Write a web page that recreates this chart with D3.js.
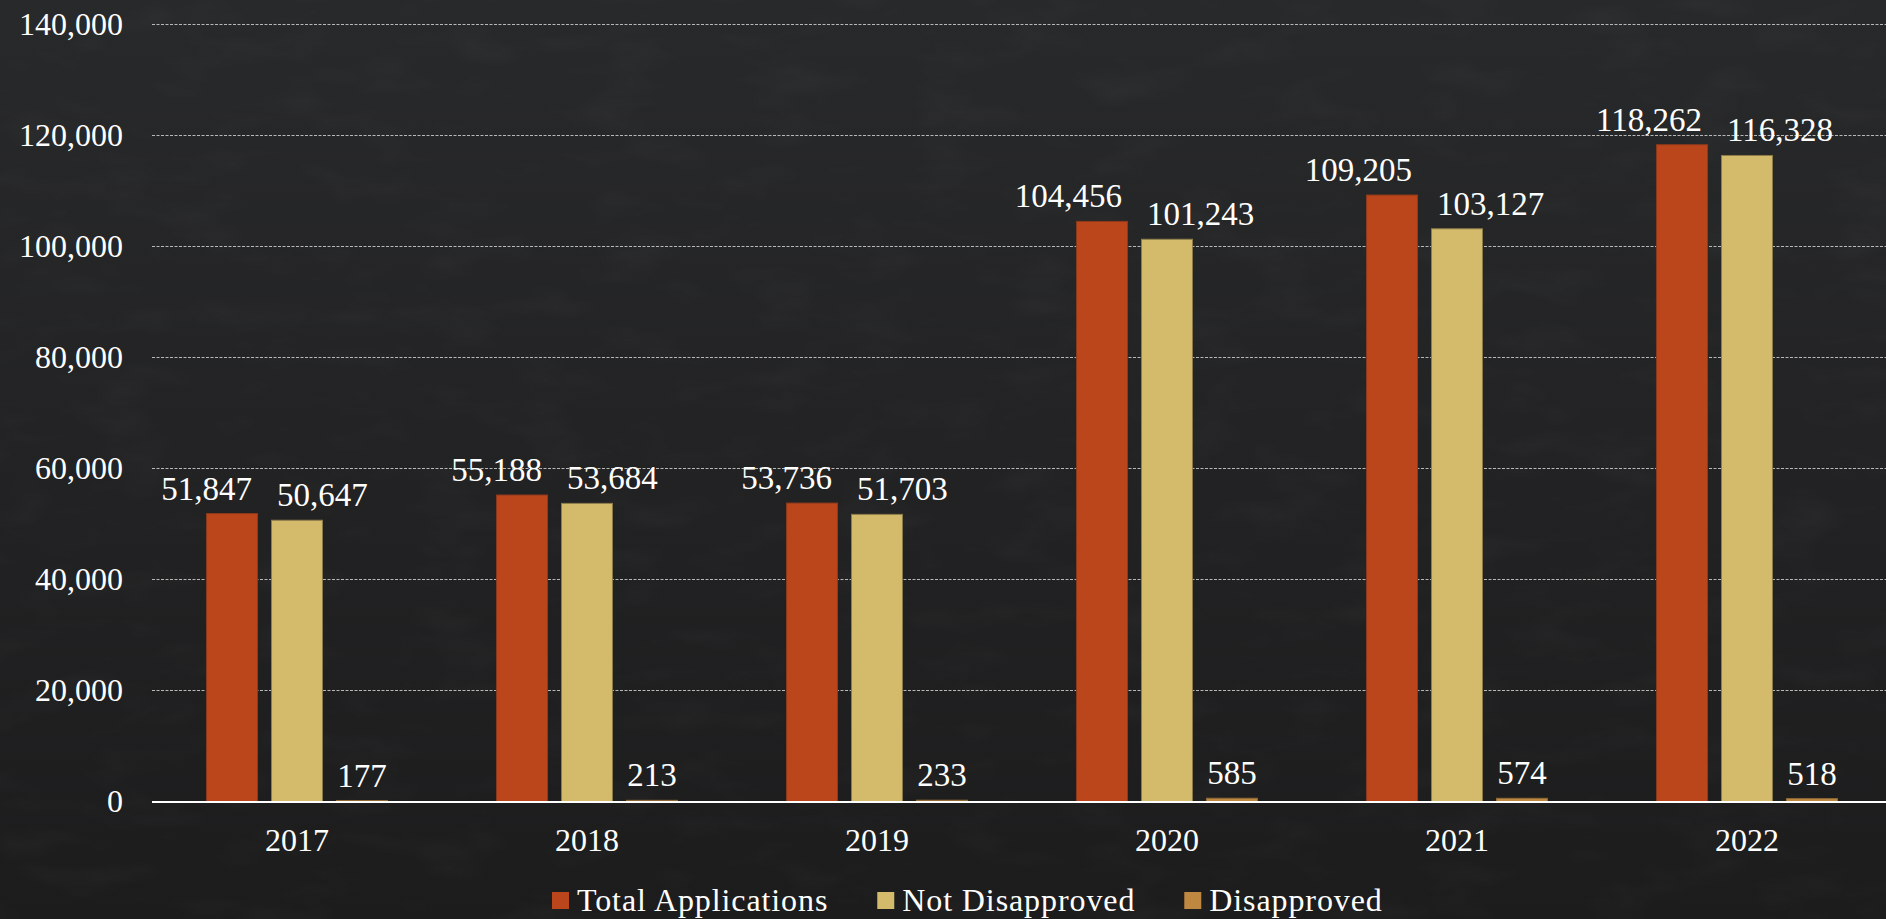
<!DOCTYPE html>
<html>
<head>
<meta charset="utf-8">
<script src="https://cdnjs.cloudflare.com/ajax/libs/d3/7.8.5/d3.min.js"></script>
<style>
  html, body { margin: 0; padding: 0; background: #202122; overflow: hidden; }
  svg { display: block; }
  text { font-family: "Liberation Serif", "DejaVu Serif", serif; fill: #ffffff; }
</style>
</head>
<body>
<svg id="myChart" width="1886" height="919"></svg>
<script>
// data
var years = ["2017", "2018", "2019", "2020", "2021", "2022"];
var seriesNames = ["Total Applications", "Not Disapproved", "Disapproved"];
var totalApplications = [51847, 55188, 53736, 104456, 109205, 118262];
var notDisapproved = [50647, 53684, 51703, 101243, 103127, 116328];
var disapproved = [177, 213, 233, 585, 574, 518];
var yTicks = [0, 20000, 40000, 60000, 80000, 100000, 120000, 140000];

var colors = ["#bb461c", "#d3bb6b", "#bf8840"];
var strokes = ["#8f3a1c", "#8c7c4a", "#8f6a35"];

drawChart();

function drawChart(){
  var svgWidth = 1886, svgHeight = 919;
  var svg = d3.select("#myChart");

  // background with a faint chalkboard texture
  var defs = svg.append("defs");
  var grad = defs.append("linearGradient")
    .attr("id", "bg").attr("x1", 0).attr("y1", 0).attr("x2", 0).attr("y2", 1);
  grad.append("stop").attr("offset", "0%").attr("stop-color", "#28292a");
  grad.append("stop").attr("offset", "100%").attr("stop-color", "#1c1c1d");
  var filt = defs.append("filter").attr("id", "grain")
    .attr("x", 0).attr("y", 0).attr("width", "100%").attr("height", "100%");
  filt.append("feTurbulence").attr("type", "fractalNoise")
    .attr("baseFrequency", "0.012 0.03").attr("numOctaves", 3).attr("seed", 4);
  filt.append("feColorMatrix").attr("type", "matrix")
    .attr("values", "0 0 0 0 1  0 0 0 0 1  0 0 0 0 1  0 0 0 0.9 -0.42");
  svg.append("rect").attr("width", svgWidth).attr("height", svgHeight).attr("fill", "url(#bg)");
  svg.append("rect").attr("width", svgWidth).attr("height", svgHeight)
    .attr("filter", "url(#grain)").attr("opacity", 0.06);

  // scales
  var x0 = d3.scaleBand().domain(years).range([152, 1892]);
  var x1 = d3.scaleBand().domain(seriesNames)
    .range([0, x0.bandwidth()]).paddingInner(0.215).paddingOuter(0.84);
  var y = d3.scaleLinear().domain([0, 140000]).range([801.5, 24]);

  // grid lines
  svg.append("g").selectAll("line")
    .data(yTicks.filter(function(d){ return d > 0; }))
    .enter().append("line")
    .attr("x1", 152).attr("x2", svgWidth)
    .attr("y1", function(d){ return Math.round(y(d)) + 0.5; })
    .attr("y2", function(d){ return Math.round(y(d)) + 0.5; })
    .attr("stroke", "#b8b8b8")
    .attr("stroke-width", 1)
    .attr("stroke-dasharray", "3,1.5");

  // y axis labels
  var yAxis = svg.append("g")
    .attr("transform", "translate(152,0)")
    .call(d3.axisLeft(y).tickValues(yTicks).tickSize(0).tickPadding(29)
      .tickFormat(d3.format(",")));
  yAxis.select(".domain").remove();
  yAxis.selectAll("text")
    .attr("fill", "#fff").attr("font-size", "32px")
    .attr("font-family", "Liberation Serif, DejaVu Serif, serif");

  // bars
  var rows = years.map(function(yr, i){
    return { year: yr, values: [totalApplications[i], notDisapproved[i], disapproved[i]] };
  });

  var groups = svg.append("g").selectAll("g")
    .data(rows).enter().append("g")
    .attr("transform", function(d){ return "translate(" + x0(d.year) + ",0)"; });

  groups.selectAll("rect")
    .data(function(d){ return d.values.map(function(v, k){ return { key: seriesNames[k], k: k, value: v }; }); })
    .enter().append("rect")
    .attr("x", function(d){ return x1(d.key); })
    .attr("y", function(d){ return y(d.value); })
    .attr("width", x1.bandwidth())
    .attr("height", function(d){ return y(0) - y(d.value); })
    .attr("fill", function(d){ return colors[d.k]; })
    .attr("stroke", function(d){ return strokes[d.k]; })
    .attr("stroke-width", 1);

  // zero line
  svg.append("line")
    .attr("x1", 152).attr("x2", svgWidth)
    .attr("y1", y(0) + 0.5).attr("y2", y(0) + 0.5)
    .attr("stroke", "#ffffff").attr("stroke-width", 2);

  // value labels
  groups.each(function(d){
    var g = d3.select(this);
    var labels = d.values.map(function(v, k){
      return g.append("text")
        .attr("x", x1(seriesNames[k]) + x1.bandwidth() / 2)
        .attr("y", y(v) - 14)
        .attr("text-anchor", "middle")
        .attr("font-size", "33px")
        .text(d3.format(",")(v));
    });
    // push the first two labels apart when they overlap
    var w0 = labels[0].node().getComputedTextLength();
    var w1 = labels[1].node().getComputedTextLength();
    var c0 = +labels[0].attr("x"), c1 = +labels[1].attr("x");
    var need = (w0 + w1) / 2 + 25;
    if (c1 - c0 < need) {
      var shift = (need - (c1 - c0)) / 2;
      labels[0].attr("x", c0 - shift);
      labels[1].attr("x", c1 + shift);
    }
  });

  // x axis labels
  svg.append("g").selectAll("text")
    .data(years).enter().append("text")
    .attr("x", function(d){ return x0(d) + x0.bandwidth() / 2; })
    .attr("y", 851)
    .attr("text-anchor", "middle")
    .attr("font-size", "32px")
    .text(function(d){ return d; });

  // legend
  var legend = svg.append("g");
  var lx = 552;
  seriesNames.forEach(function(name, k){
    legend.append("rect")
      .attr("x", lx).attr("y", 892)
      .attr("width", 17).attr("height", 17)
      .attr("fill", colors[k]);
    var t = legend.append("text")
      .attr("x", lx + 25).attr("y", 911)
      .attr("font-size", "32px")
      .attr("letter-spacing", "0.9px")
      .text(name);
    lx += 25 + t.node().getComputedTextLength() + 49;
  });
}
</script>
</body>
</html>
